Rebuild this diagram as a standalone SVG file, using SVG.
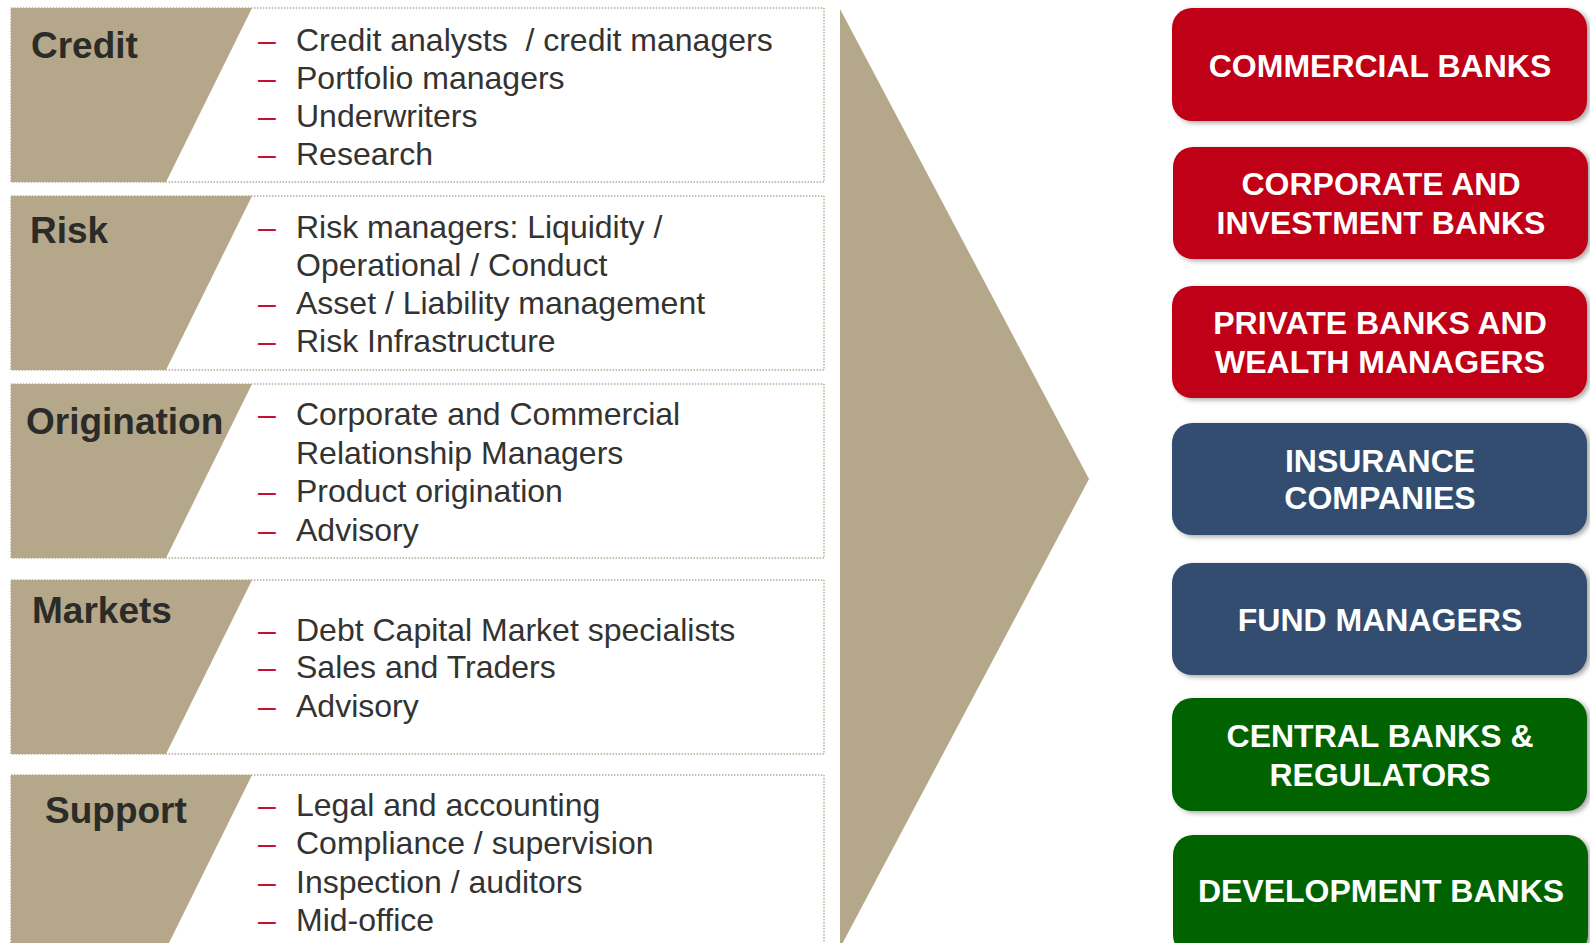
<svg xmlns="http://www.w3.org/2000/svg" width="1590" height="943" viewBox="0 0 1590 943">
<style>
.panel{fill:none;stroke:#B5A78A;stroke-width:1.4;stroke-dasharray:1.4 1.6}
.tan{fill:#B5A78A}
.lbl{font-family:"Liberation Sans",Arial,sans-serif;font-weight:bold;font-size:37px;fill:#2B2B28}
.item{font-family:"Liberation Sans",Arial,sans-serif;font-size:32px;fill:#333331}
.dash{font-family:"Liberation Sans",Arial,sans-serif;font-size:32px;fill:#C8102E}
.box{stroke:none}
.red{fill:#C00012}
.blue{fill:#314D70}
.green{fill:#006400}
.bt{font-family:"Liberation Sans",Arial,sans-serif;font-weight:bold;font-size:32px;fill:#FFFFFF;text-anchor:middle}
</style>
<defs>
<filter id="sh" x="-5%" y="-10%" width="115%" height="130%">
<feDropShadow dx="3" dy="2" stdDeviation="2.5" flood-color="#000000" flood-opacity="0.35"/>
</filter>
</defs>
<rect width="1590" height="943" fill="#FFFFFF"/>

<g id="connectors">
<polygon class="tan" points="840,9 1089,479 840,948"/>
</g>

<g id="credit">
<polygon class="tan" points="11,8 252,8 166,182 11,182"/>
<rect class="panel" x="11" y="8" width="813" height="174"/>
<text class="lbl" x="31" y="58">Credit</text>
<text class="dash" x="258" y="51">–</text><text class="item" x="296" y="51" xml:space="preserve">Credit analysts  / credit managers</text>
<text class="dash" x="258" y="89">–</text><text class="item" x="296" y="89">Portfolio managers</text>
<text class="dash" x="258" y="127">–</text><text class="item" x="296" y="127">Underwriters</text>
<text class="dash" x="258" y="165">–</text><text class="item" x="296" y="165">Research</text>
</g>

<g id="risk">
<polygon class="tan" points="11,196 252,196 166,370 11,370"/>
<rect class="panel" x="11" y="196" width="813" height="174"/>
<text class="lbl" x="30" y="243">Risk</text>
<text class="dash" x="258" y="238">–</text><text class="item" x="296" y="238">Risk managers: Liquidity /</text>
<text class="item" x="296" y="276">Operational / Conduct</text>
<text class="dash" x="258" y="314">–</text><text class="item" x="296" y="314">Asset / Liability management</text>
<text class="dash" x="258" y="352">–</text><text class="item" x="296" y="352">Risk Infrastructure</text>
</g>

<g id="origination">
<polygon class="tan" points="11,384 252,384 166,558 11,558"/>
<rect class="panel" x="11" y="384" width="813" height="174"/>
<text class="lbl" x="26" y="434">Origination</text>
<text class="dash" x="258" y="425">–</text><text class="item" x="296" y="425">Corporate and Commercial</text>
<text class="item" x="296" y="464">Relationship Managers</text>
<text class="dash" x="258" y="502">–</text><text class="item" x="296" y="502">Product origination</text>
<text class="dash" x="258" y="541">–</text><text class="item" x="296" y="541">Advisory</text>
</g>

<g id="markets">
<polygon class="tan" points="11,580 252,580 166,754 11,754"/>
<rect class="panel" x="11" y="580" width="813" height="174"/>
<text class="lbl" x="32" y="623">Markets</text>
<text class="dash" x="258" y="641">–</text><text class="item" x="296" y="641">Debt Capital Market specialists</text>
<text class="dash" x="258" y="678">–</text><text class="item" x="296" y="678">Sales and Traders</text>
<text class="dash" x="258" y="717">–</text><text class="item" x="296" y="717">Advisory</text>
</g>

<g id="support">
<polygon class="tan" points="11,775 252,775 166,949 11,949"/>
<rect class="panel" x="11" y="775" width="813" height="174"/>
<text class="lbl" x="45" y="823">Support</text>
<text class="dash" x="258" y="816">–</text><text class="item" x="296" y="816">Legal and accounting</text>
<text class="dash" x="258" y="854">–</text><text class="item" x="296" y="854">Compliance / supervision</text>
<text class="dash" x="258" y="893">–</text><text class="item" x="296" y="893">Inspection / auditors</text>
<text class="dash" x="258" y="931">–</text><text class="item" x="296" y="931">Mid-office</text>
</g>

<g id="commercial-banks">
<rect class="box red" filter="url(#sh)" x="1172" y="8" width="415" height="113" rx="20"/>
<text class="bt" x="1380" y="77">COMMERCIAL BANKS</text>
</g>
<g id="corporate-investment-banks">
<rect class="box red" filter="url(#sh)" x="1173" y="147" width="415" height="112" rx="20"/>
<text class="bt" x="1381" y="195">CORPORATE AND</text>
<text class="bt" x="1381" y="234">INVESTMENT BANKS</text>
</g>
<g id="private-banks">
<rect class="box red" filter="url(#sh)" x="1172" y="286" width="415" height="112" rx="20"/>
<text class="bt" x="1380" y="334">PRIVATE BANKS AND</text>
<text class="bt" x="1380" y="373">WEALTH MANAGERS</text>
</g>
<g id="insurance">
<rect class="box blue" filter="url(#sh)" x="1172" y="423" width="415" height="112" rx="20"/>
<text class="bt" x="1380" y="472">INSURANCE</text>
<text class="bt" x="1380" y="509">COMPANIES</text>
</g>
<g id="fund-managers">
<rect class="box blue" filter="url(#sh)" x="1172" y="563" width="415" height="112" rx="20"/>
<text class="bt" x="1380" y="631">FUND MANAGERS</text>
</g>
<g id="central-banks">
<rect class="box green" filter="url(#sh)" x="1172" y="698" width="415" height="113" rx="20"/>
<text class="bt" x="1380" y="747">CENTRAL BANKS &amp;</text>
<text class="bt" x="1380" y="786">REGULATORS</text>
</g>
<g id="development-banks">
<rect class="box green" filter="url(#sh)" x="1173" y="835" width="415" height="120" rx="20"/>
<text class="bt" x="1381" y="902">DEVELOPMENT BANKS</text>
</g>
</svg>
